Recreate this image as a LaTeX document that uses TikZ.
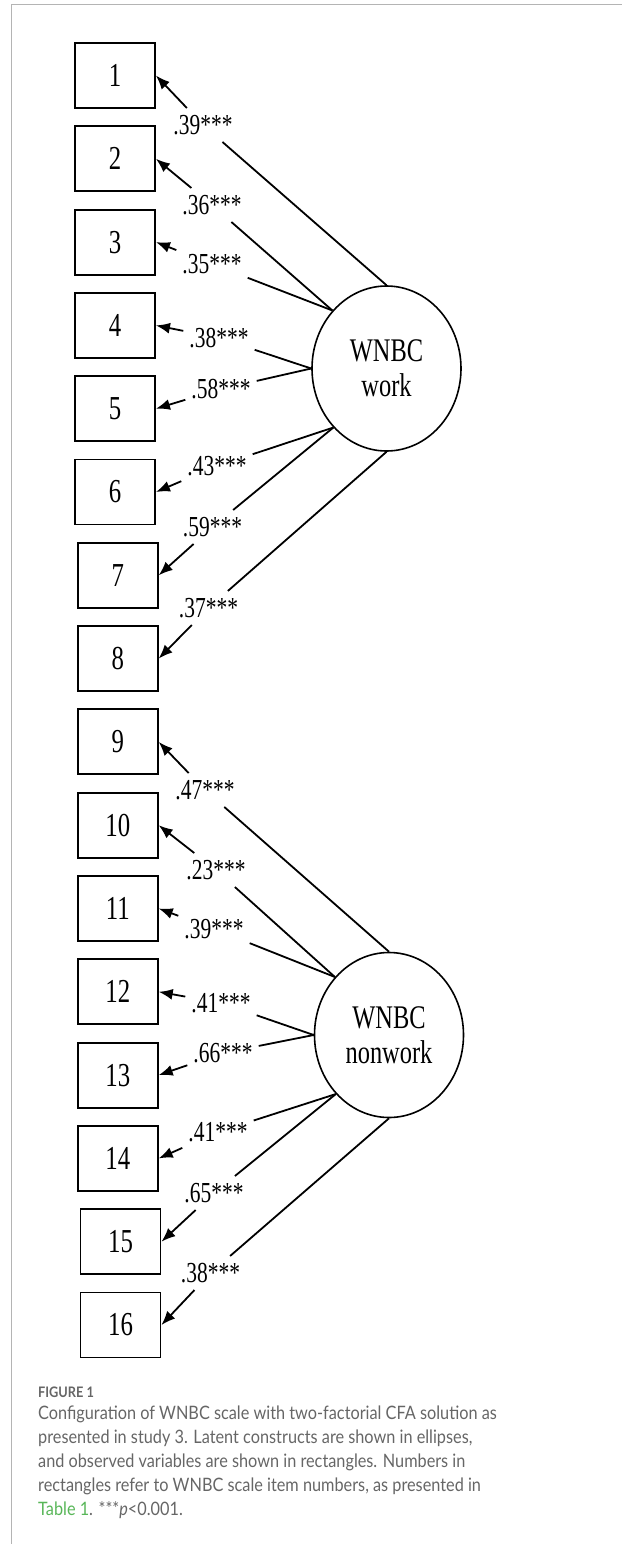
\documentclass[tikz,border=0pt]{standalone}
\usepackage{fontspec}
\usetikzlibrary{arrows.meta, positioning, shapes.geometric}
\newfontfamily\diagfont[FakeStretch=0.74]{Liberation Serif}
\newfontfamily\capfont[FakeStretch=0.88]{Lato}
\definecolor{FrameGrey}{RGB}{180,180,180}
\definecolor{CaptionGrey}{RGB}{102,102,102}
\definecolor{LinkGreen}{RGB}{88,182,88}

\begin{document}
\begin{tikzpicture}[
    x=1pt, y=-1pt,
    item/.style={draw, line width=1.9pt, minimum width=80pt, minimum height=65pt, inner sep=0pt, font=\diagfont\fontsize{33.5}{35}\selectfont},
    factor/.style={draw, ellipse, line width=1.6pt, minimum width=149pt, minimum height=165pt, inner sep=0pt, align=center, font=\diagfont\fontsize{33}{35}\selectfont},
    lbl/.style={inner xsep=6pt, inner ysep=7pt, font=\diagfont\fontsize{29}{30}\selectfont},
    link/.style={line width=1.8pt},
    arrow/.style={link, -{Latex[length=14pt, width=11pt]}}
]
\useasboundingbox (0,0) rectangle (622,1544);
\draw[FrameGrey, line width=1.3pt] (11.5,1544) -- (11.5,4.7) -- (622,4.7);

\node[item] (i1) at (115,75.5) {1};
\node[item, below=16.4pt of i1] (i2) {2};
\node[item, below=16.4pt of i2] (i3) {3};
\node[item, below=16.4pt of i3] (i4) {4};
\node[item, below=16.4pt of i4] (i5) {5};
\node[item, below=16.4pt of i5] (i6) {6};
\node[item, below=16.4pt of i6, xshift=2.75pt] (i7) {7};
\node[item, below=16.4pt of i7] (i8) {8};
\node[item, below=16.4pt of i8] (i9) {9};
\node[item, below=16.4pt of i9] (i10) {10};
\node[item, below=16.4pt of i10] (i11) {11};
\node[item, below=16.4pt of i11] (i12) {12};
\node[item, below=16.4pt of i12] (i13) {13};
\node[item, below=16.4pt of i13] (i14) {14};
\node[item, below=16.4pt of i14, xshift=2.75pt] (i15) {15};
\node[item, below=16.4pt of i15] (i16) {16};

\node[factor] (work) at (386.5,368.5) {WNBC\\work};
\node[factor] (nonwork) at (389,1035) {WNBC\\nonwork};

\node[lbl] (l1) at (203,125) {.39***};
\node[lbl] (l2) at (212,205) {.36***};
\node[lbl] (l3) at (212,264) {.35***};
\node[lbl] (l4) at (219,338) {.38***};
\node[lbl] (l5) at (221,389) {.58***};
\node[lbl] (l6) at (217,466) {.43***};
\node[lbl] (l7) at (212.5,527) {.59***};
\node[lbl] (l8) at (208.5,608) {.37***};
\node[lbl] (l9) at (205,790) {.47***};
\node[lbl] (l10) at (216,870) {.23***};
\node[lbl] (l11) at (214,929) {.39***};
\node[lbl] (l12) at (221,1003) {.41***};
\node[lbl] (l13) at (223,1053) {.66***};
\node[lbl] (l14) at (218,1132) {.41***};
\node[lbl] (l15) at (214,1193) {.65***};
\node[lbl] (l16) at (210.5,1273) {.38***};

\draw[link] (work.north) -- (l1);
\draw[arrow] (l1) -- (i1.east);
\draw[link] (work.133) -- (l2);
\draw[arrow] (l2) -- (i2.east);
\draw[link] (work.133) -- (l3);
\draw[arrow] (l3) -- (i3.east);
\draw[link] (work.west) -- (l4);
\draw[arrow] (l4) -- (i4.east);
\draw[link] (work.west) -- (l5);
\draw[arrow] (l5) -- (i5.east);
\draw[link] (work.228) -- (l6);
\draw[arrow] (l6) -- (i6.east);
\draw[link] (work.228) -- (l7);
\draw[arrow] (l7) -- (i7.east);
\draw[link] (work.south) -- (l8);
\draw[arrow] (l8) -- (i8.east);

\draw[link] (nonwork.north) -- (l9);
\draw[arrow] (l9) -- (i9.east);
\draw[link] (nonwork.133) -- (l10);
\draw[arrow] (l10) -- (i10.east);
\draw[link] (nonwork.133) -- (l11);
\draw[arrow] (l11) -- (i11.east);
\draw[link] (nonwork.west) -- (l12);
\draw[arrow] (l12) -- (i12.east);
\draw[link] (nonwork.west) -- (l13);
\draw[arrow] (l13) -- (i13.east);
\draw[link] (nonwork.228) -- (l14);
\draw[arrow] (l14) -- (i14.east);
\draw[link] (nonwork.228) -- (l15);
\draw[arrow] (l15) -- (i15.east);
\draw[link] (nonwork.south) -- (l16);
\draw[arrow] (l16) -- (i16.east);

\node[anchor=base west, inner sep=0pt, text=CaptionGrey, font=\capfont\bfseries\fontsize{14.5}{16}\selectfont] (fig) at (38,1397) {FIGURE 1};
\node[anchor=north west, inner sep=0pt, align=left, text=CaptionGrey, font=\capfont\fontsize{18.5}{24}\selectfont] (caption) at (38,1406) {Configuration of WNBC scale with two-factorial CFA solution as\\presented in study 3. Latent constructs are shown in ellipses,\\and observed variables are shown in rectangles. Numbers in\\rectangles refer to WNBC scale item numbers, as presented in\\\textcolor{LinkGreen}{Table 1}. ***\textit{p}<0.001.};
\end{tikzpicture}
\end{document}
